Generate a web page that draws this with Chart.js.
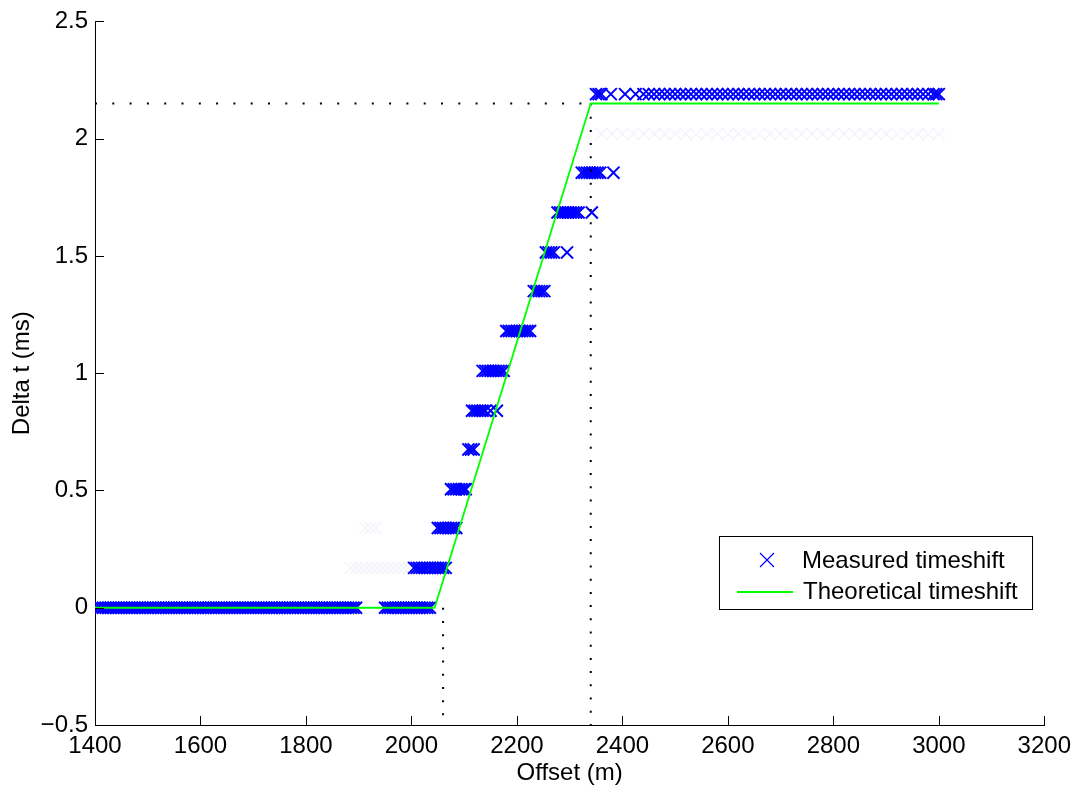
<!DOCTYPE html>
<html>
<head>
<meta charset="utf-8">
<title>Delta t vs offset</title>
<script src="https://cdn.jsdelivr.net/npm/chart.js@4.4.1/dist/chart.umd.min.js"></script>
<style>
  html, body { margin: 0; padding: 0; background: #fff; }
  #wrap { width: 1078px; height: 792px; }
</style>
</head>
<body>
<div id="wrap"><canvas id="myChart" width="1078" height="792"></canvas></div>
<script>
// measured timeshift: one offset list for each quantized delta t level
const measuredLevels = [0, 0, 0.17, 0.34, 0.505, 0.675, 0.84, 1.01, 1.18, 1.35, 1.515, 1.685, 1.855, 2.19];
const measuredOffsets = [
  [1405,1410,1415,1420,1425,1430,1435,1440,1445,1450,1455,1460,1465,1470,1475,1480,1485,1490,1495,1500,
   1505,1510,1515,1520,1525,1530,1535,1540,1545,1550,1555,1560,1565,1570,1575,1580,1585,1590,1595,1600,
   1605,1610,1615,1620,1625,1630,1635,1640,1645,1650,1655,1660,1665,1670,1675,1680,1685,1690,1695,1700,
   1705,1710,1715,1720,1725,1730,1735,1740,1745,1750,1755,1760,1765,1770,1775,1780,1785,1790,1795,1800,
   1805,1810,1815,1820,1825,1830,1835,1840,1845,1850,1855,1860,1865,1870,1875,1880,1885,1890,1895],
  [1950,1955,1960,1965,1970,1975,1980,1985,1990,1995,2000,2005,2010,2015,2020,2025,2030,2035],
  [2005,2010,2015,2020,2025,2030,2035,2040,2045,2050,2055,2060,2065],
  [2050,2055,2060,2065,2070,2075,2080,2085],
  [2075,2080,2085,2090,2095,2100,2103],
  [2108,2113,2118],
  [2115,2120,2125,2130,2135,2140,2150,2162],
  [2135,2140,2145,2150,2155,2160,2165,2170,2175],
  [2180,2185,2190,2195,2200,2205,2210,2215,2220,2225],
  [2232,2237,2242,2247,2252],
  [2255,2260,2265,2270,2295],
  [2277,2282,2287,2292,2297,2302,2307,2312,2317,2342],
  [2323,2328,2333,2338,2343,2348,2353,2358,2383],
  [2350,2355,2360,2378,2405,2425,2440,2450,2460,2470,2480,2490,2500,2510,2520,2530,2540,2550,2560,2570,
   2580,2590,2600,2610,2620,2630,2640,2650,2660,2670,2680,2690,2700,2710,2720,2730,2740,2750,2760,2770,
   2780,2790,2800,2810,2820,2830,2840,2850,2860,2870,2880,2890,2900,2910,2920,2930,2940,2950,2960,2970,
   2980,2990,2995,3000]
];

// very light ghost traces behind the measured points
const faintLevels = [0.17, 0.34, 2.02];
const faintOffsets = [
  [1885,1895,1905,1915,1925,1935,1945,1955,1965,1975,1985,1995],
  [1912,1922,1932],
  [2360,2380,2400,2420,2440,2460,2480,2500,2520,2540,2560,2580,2600,2620,2640,2660,2680,2700,2720,2740,
   2760,2780,2800,2820,2840,2860,2880,2900,2920,2940,2960,2980,3000]
];

// theoretical timeshift
const theoryOffset = [1400, 2044, 2340, 3000];
const theoryShift = [0, 0, 2.15, 2.15];

// dotted guide lines
const guideTopOffset = [1400, 2340];
const guideTopShift = [2.15, 2.15];
const guideRightOffset = [2340, 2340];
const guideRightShift = [2.15, -0.5];
const guideLeftOffset = [2060, 2060];
const guideLeftShift = [0, -0.5];

const xMin = 1400, xMax = 3200, xStep = 200;
const yMin = -0.5, yMax = 2.5, yStep = 0.5;

const FONT = '"Liberation Sans", Arial, Helvetica, sans-serif';
const fontSpec = { family: FONT, size: 24 };

function toPoints(levels, offsets) {
  return offsets.flatMap((offs, i) => offs.map(x => ({ x: x, y: levels[i] })));
}
function zipPoints(xs, ys) {
  return xs.map((x, i) => ({ x: x, y: ys[i] }));
}

// matlab style ticks pointing into the plot
const inwardTicks = {
  id: 'inwardTicks',
  afterDraw(chart) {
    const ctx = chart.ctx;
    const area = chart.chartArea;
    const xs = chart.scales.x, ys = chart.scales.y;
    ctx.save();
    ctx.strokeStyle = '#000';
    ctx.lineWidth = 1;
    ctx.beginPath();
    xs.ticks.forEach(t => {
      const px = Math.round(xs.getPixelForValue(t.value)) + 0.5;
      ctx.moveTo(px, area.bottom);
      ctx.lineTo(px, area.bottom - 9);
    });
    ys.ticks.forEach(t => {
      const py = Math.round(ys.getPixelForValue(t.value)) + 0.5;
      ctx.moveTo(area.left, py);
      ctx.lineTo(area.left + 9, py);
    });
    ctx.stroke();
    ctx.restore();
  }
};

const boxLegend = {
  id: 'boxLegend',
  afterDraw(chart) {
    const ctx = chart.ctx;
    const measured = chart.data.datasets[0];
    const theory = chart.data.datasets[1];
    ctx.save();
    ctx.fillStyle = '#fff';
    ctx.fillRect(719.5, 536.5, 313, 73);
    ctx.strokeStyle = '#000';
    ctx.lineWidth = 1;
    ctx.strokeRect(719.5, 536.5, 313, 73);

    ctx.strokeStyle = measured.borderColor;
    ctx.lineWidth = 1.2;
    ctx.beginPath();
    ctx.moveTo(760, 553); ctx.lineTo(774, 567);
    ctx.moveTo(760, 567); ctx.lineTo(774, 553);
    ctx.stroke();

    ctx.strokeStyle = theory.borderColor;
    ctx.lineWidth = 1.8;
    ctx.beginPath();
    ctx.moveTo(737, 592); ctx.lineTo(793, 592);
    ctx.stroke();

    ctx.fillStyle = '#000';
    ctx.font = '24px ' + FONT;
    ctx.textBaseline = 'middle';
    ctx.fillText(measured.label, 802, 561);
    ctx.fillText(theory.label, 803, 592);
    ctx.restore();
  }
};

const config = {
  type: 'scatter',
  data: {
    datasets: [
      {
        label: 'Measured timeshift',
        data: toPoints(measuredLevels, measuredOffsets),
        pointStyle: 'crossRot',
        pointRadius: 8.5,
        borderColor: '#0000ff',
        backgroundColor: '#0000ff',
        pointBorderWidth: 2,
        order: 2
      },
      {
        label: 'Theoretical timeshift',
        data: zipPoints(theoryOffset, theoryShift),
        showLine: true,
        borderColor: '#00ff00',
        borderWidth: 1.8,
        pointRadius: 0,
        order: 0
      },
      {
        label: 'faint',
        data: toPoints(faintLevels, faintOffsets),
        pointStyle: 'crossRot',
        pointRadius: 8.5,
        borderColor: '#f4f5fc',
        pointBorderWidth: 1.5,
        order: 3
      },
      {
        label: 'guide top',
        data: zipPoints(guideTopOffset, guideTopShift),
        showLine: true,
        borderColor: '#000',
        borderWidth: 2,
        borderDash: [2, 15.3],
        pointRadius: 0,
        order: 1
      },
      {
        label: 'guide right',
        data: zipPoints(guideRightOffset, guideRightShift),
        showLine: true,
        borderColor: '#000',
        borderWidth: 2,
        borderDash: [2, 11.2],
        pointRadius: 0,
        order: 1
      },
      {
        label: 'guide left',
        data: zipPoints(guideLeftOffset, guideLeftShift),
        showLine: true,
        borderColor: '#000',
        borderWidth: 2,
        borderDash: [2, 11.2],
        pointRadius: 0,
        order: 1
      }
    ]
  },
  options: {
    responsive: false,
    animation: false,
    layout: { padding: { left: 0, top: 20, right: 33, bottom: 0 } },
    plugins: {
      legend: { display: false },
      tooltip: { enabled: false }
    },
    scales: {
      x: {
        type: 'linear',
        min: xMin,
        max: xMax,
        ticks: {
          stepSize: xStep, font: fontSpec, color: '#000', padding: 7, maxRotation: 0, autoSkip: false,
          callback: v => String(v)
        },
        grid: { display: false, drawTicks: false },
        border: { display: true, color: '#000', width: 1 },
        title: { display: true, text: 'Offset (m)', font: fontSpec, color: '#000', padding: { top: 0, bottom: 4.5 } },
        afterFit(scale) { scale.height = 67; }
      },
      y: {
        type: 'linear',
        min: yMin,
        max: yMax,
        ticks: {
          stepSize: yStep, font: fontSpec, color: '#000', padding: 7, autoSkip: false,
          callback: v => (v < 0 ? '\u2212' + Math.abs(v) : String(v))
        },
        grid: { display: false, drawTicks: false },
        border: { display: true, color: '#000', width: 1 },
        title: { display: true, text: 'Delta t (ms)', font: fontSpec, color: '#000', padding: { top: 7.5, bottom: 0 } },
        afterFit(scale) { scale.width = 95; }
      }
    }
  },
  plugins: [inwardTicks, boxLegend]
};

const myChart = new Chart(document.getElementById('myChart'), config);
</script>
</body>
</html>
